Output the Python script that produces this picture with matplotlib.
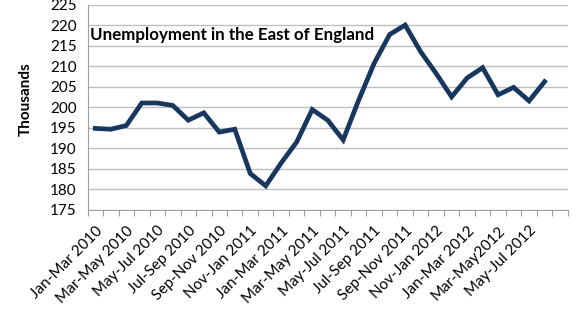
import numpy as np
import matplotlib.pyplot as plt

# quarterly rolling periods, Jan-Mar 2010 .. Jul-Sep 2012 (last one has no data)
periods = ["Jan-Mar 2010", "Feb-Apr 2010", "Mar-May 2010", "Apr-Jun 2010", "May-Jul 2010",
           "Jun-Aug 2010", "Jul-Sep 2010", "Aug-Oct 2010", "Sep-Nov 2010", "Oct-Dec 2010",
           "Nov-Jan 2011", "Dec-Feb 2011", "Jan-Mar 2011", "Feb-Apr 2011", "Mar-May 2011",
           "Apr-Jun 2011", "May-Jul 2011", "Jun-Aug 2011", "Jul-Sep 2011", "Aug-Oct 2011",
           "Sep-Nov 2011", "Oct-Dec 2011", "Nov-Jan 2012", "Dec-Feb 2012", "Jan-Mar 2012",
           "Feb-Apr 2012", "Mar-May2012", "Apr-Jun 2012", "May-Jul 2012", "Jun-Aug 2012",
           "Jul-Sep 2012"]
unemployed = [194.8, 194.6, 195.5, 201.0, 201.0, 200.4, 196.8, 198.6, 193.9, 194.6,
              183.8, 180.8, 186.4, 191.5, 199.4, 196.8, 192.0, 201.7, 210.7, 217.7,
              220.0, 213.5, 208.2, 202.5, 207.1, 209.6, 203.0, 204.8, 201.5, 206.2]

plt.rcParams["font.family"] = ["Lato", "DejaVu Sans"]

fig = plt.figure(figsize=(5.8, 3.26), dpi=100)
ax = fig.add_axes([0.151, 0.357, 0.828, 0.629])

x = np.arange(len(unemployed))
ax.plot(x, unemployed, color="#17375E", lw=3.4, solid_joinstyle="miter", zorder=3)

n = len(periods)
ax.set_xlim(-0.5, n - 0.5)
ax.set_ylim(175, 225)
ax.set_yticks(np.arange(175, 226, 5))
ax.grid(axis="y", color="#BFBFBF", lw=1)
ax.set_axisbelow(True)

# tick marks sit between categories, labels on every other category
ax.set_xticks(np.arange(n + 1) - 0.5)
ax.set_xticklabels([])
lab_pos = x[::2]
ax.set_xticks(lab_pos, minor=True)
ax.set_xticklabels([periods[i] for i in lab_pos], minor=True, rotation=45,
                   ha="right", rotation_mode="anchor", fontsize=11)
ax.tick_params(axis="x", which="major", length=4, color="#A0A0A0", direction="out")
ax.tick_params(axis="x", which="minor", length=0, pad=10)
ax.tick_params(axis="y", length=0, labelsize=11, pad=8)

for s in ["top", "right"]:
    ax.spines[s].set_visible(False)
ax.spines["left"].set_color("#A0A0A0")
ax.spines["bottom"].set_color("#A0A0A0")

ax.set_ylabel("Thousands", fontsize=11, fontweight="bold")
ax.yaxis.set_label_coords(-0.115, 0.54)
ax.text(0.005, 0.85, "Unemployment in the East of England", transform=ax.transAxes,
        fontsize=12.2, fontweight="bold", ha="left", va="center")

fig.savefig("out.png", dpi=100)
